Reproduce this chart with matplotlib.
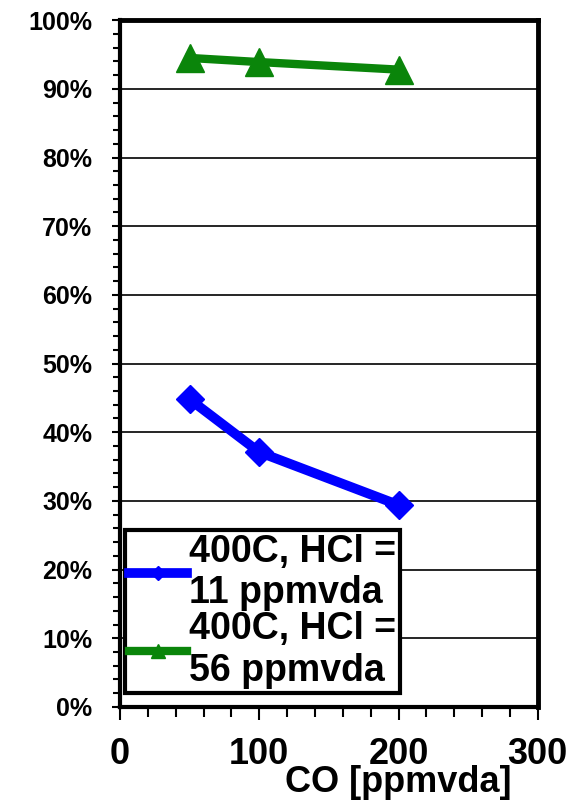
import numpy as np
import matplotlib.pyplot as plt
from matplotlib.ticker import MultipleLocator, PercentFormatter

# Data
co = [50, 100, 200]
low_hcl = [44.8, 37.1, 29.4]
high_hcl = [94.5, 93.9, 92.8]
labels = ["400C, HCl =\n11 ppmvda", "400C, HCl =\n56 ppmvda"]

plt.rcParams["font.family"] = ["Liberation Sans", "DejaVu Sans"]
plt.rcParams["font.weight"] = "bold"

fig = plt.figure(figsize=(5.77, 8.07), dpi=100)
ax = fig.add_axes([0.208, 0.124, 0.724, 0.851])

ax.plot(co, low_hcl, color="#0000ff", lw=7, marker="D", ms=14,
        label=labels[0], zorder=3)
ax.plot(co, high_hcl, color="#0a850a", lw=6, marker="^", ms=20,
        label=labels[1], zorder=3)

ax.set_xlim(0, 300)
ax.set_ylim(0, 100)
ax.xaxis.set_major_locator(MultipleLocator(100))
ax.xaxis.set_minor_locator(MultipleLocator(20))
ax.yaxis.set_major_locator(MultipleLocator(10))
ax.yaxis.set_minor_locator(MultipleLocator(2))
ax.yaxis.set_major_formatter(PercentFormatter(decimals=0))

ax.grid(axis="y", which="major", color="black", lw=1.2)
ax.set_axisbelow(True)

for side, w in [("left", 3.0), ("bottom", 3.0), ("top", 3.5), ("right", 3.5)]:
    ax.spines[side].set_linewidth(w)

ax.tick_params(axis="both", which="both", direction="out", width=1.5,
               color="black")
ax.tick_params(axis="y", which="major", length=6, pad=14, labelsize=18)
ax.tick_params(axis="y", which="minor", length=5)
ax.tick_params(axis="x", which="major", length=9, pad=13, labelsize=26)
ax.tick_params(axis="x", which="minor", length=7)
for lbl in ax.get_xticklabels() + ax.get_yticklabels():
    lbl.set_fontweight("bold")

ax.set_xlabel("CO [ppmvda]", fontsize=26, fontweight="bold")
ax.xaxis.set_label_coords(0.665, -0.084)

leg = ax.legend(loc="lower left", bbox_to_anchor=(0.012, 0.021),
                fontsize=27, frameon=True, fancybox=False, framealpha=1,
                edgecolor="black", handlelength=1.55, handletextpad=0.05,
                borderpad=0.1, labelspacing=0.0, borderaxespad=0,
                markerscale=0.5)
leg.get_frame().set_linewidth(3)
for t in leg.get_texts():
    t.set_fontweight("bold")

fig.savefig("out.png", dpi=100)
